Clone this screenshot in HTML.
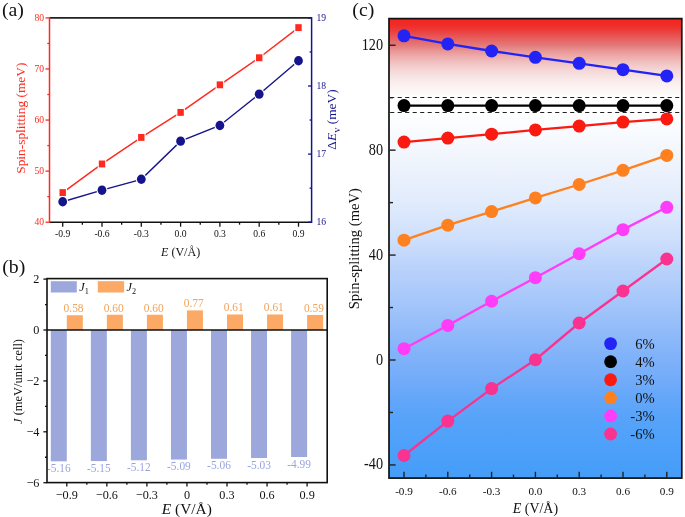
<!DOCTYPE html>
<html><head><meta charset="utf-8"><style>
html,body{margin:0;padding:0;background:#fff;width:685px;height:517px;overflow:hidden}
svg{display:block;will-change:transform}
text{font-family:"Liberation Serif", serif;}
</style></head><body>
<svg width="685" height="517" viewBox="0 0 685 517">
<rect width="685" height="517" fill="#fff"/>
<line x1="49.50" y1="17.90" x2="311.60" y2="17.90" stroke="#222" stroke-width="1.6" />
<line x1="49.50" y1="222.20" x2="311.60" y2="222.20" stroke="#111" stroke-width="1.6" />
<line x1="49.50" y1="17.10" x2="49.50" y2="223.00" stroke="#ff2a1f" stroke-width="1.5" />
<line x1="311.60" y1="17.10" x2="311.60" y2="223.00" stroke="#16148c" stroke-width="1.5" />
<line x1="45.50" y1="222.20" x2="49.50" y2="222.20" stroke="#ff2a1f" stroke-width="1.3" />
<line x1="47.30" y1="196.66" x2="49.50" y2="196.66" stroke="#ff2a1f" stroke-width="1.3" />
<line x1="45.50" y1="171.13" x2="49.50" y2="171.13" stroke="#ff2a1f" stroke-width="1.3" />
<line x1="47.30" y1="145.59" x2="49.50" y2="145.59" stroke="#ff2a1f" stroke-width="1.3" />
<line x1="45.50" y1="120.06" x2="49.50" y2="120.06" stroke="#ff2a1f" stroke-width="1.3" />
<line x1="47.30" y1="94.52" x2="49.50" y2="94.52" stroke="#ff2a1f" stroke-width="1.3" />
<line x1="45.50" y1="68.99" x2="49.50" y2="68.99" stroke="#ff2a1f" stroke-width="1.3" />
<line x1="47.30" y1="43.45" x2="49.50" y2="43.45" stroke="#ff2a1f" stroke-width="1.3" />
<line x1="45.50" y1="17.92" x2="49.50" y2="17.92" stroke="#ff2a1f" stroke-width="1.3" />
<text transform="translate(44.00,225.20) scale(0.86,1)" font-size="11.2" fill="#ff2a1f" text-anchor="end" >40</text>
<text transform="translate(44.00,174.13) scale(0.86,1)" font-size="11.2" fill="#ff2a1f" text-anchor="end" >50</text>
<text transform="translate(44.00,123.06) scale(0.86,1)" font-size="11.2" fill="#ff2a1f" text-anchor="end" >60</text>
<text transform="translate(44.00,71.99) scale(0.86,1)" font-size="11.2" fill="#ff2a1f" text-anchor="end" >70</text>
<text transform="translate(44.00,20.92) scale(0.86,1)" font-size="11.2" fill="#ff2a1f" text-anchor="end" >80</text>
<line x1="308.00" y1="222.20" x2="311.60" y2="222.20" stroke="#16148c" stroke-width="1.3" />
<line x1="309.60" y1="188.15" x2="311.60" y2="188.15" stroke="#16148c" stroke-width="1.3" />
<line x1="308.00" y1="154.10" x2="311.60" y2="154.10" stroke="#16148c" stroke-width="1.3" />
<line x1="309.60" y1="120.05" x2="311.60" y2="120.05" stroke="#16148c" stroke-width="1.3" />
<line x1="308.00" y1="86.00" x2="311.60" y2="86.00" stroke="#16148c" stroke-width="1.3" />
<line x1="309.60" y1="51.95" x2="311.60" y2="51.95" stroke="#16148c" stroke-width="1.3" />
<line x1="308.00" y1="17.90" x2="311.60" y2="17.90" stroke="#16148c" stroke-width="1.3" />
<text transform="translate(316.40,225.30) scale(0.86,1)" font-size="11.2" fill="#16148c" text-anchor="start" >16</text>
<text transform="translate(316.40,157.20) scale(0.86,1)" font-size="11.2" fill="#16148c" text-anchor="start" >17</text>
<text transform="translate(316.40,89.10) scale(0.86,1)" font-size="11.2" fill="#16148c" text-anchor="start" >18</text>
<text transform="translate(316.40,21.00) scale(0.86,1)" font-size="11.2" fill="#16148c" text-anchor="start" >19</text>
<line x1="62.70" y1="222.20" x2="62.70" y2="226.70" stroke="#111" stroke-width="1.3" />
<line x1="82.35" y1="222.20" x2="82.35" y2="224.70" stroke="#111" stroke-width="1.3" />
<line x1="102.00" y1="222.20" x2="102.00" y2="226.70" stroke="#111" stroke-width="1.3" />
<line x1="121.65" y1="222.20" x2="121.65" y2="224.70" stroke="#111" stroke-width="1.3" />
<line x1="141.30" y1="222.20" x2="141.30" y2="226.70" stroke="#111" stroke-width="1.3" />
<line x1="160.95" y1="222.20" x2="160.95" y2="224.70" stroke="#111" stroke-width="1.3" />
<line x1="180.60" y1="222.20" x2="180.60" y2="226.70" stroke="#111" stroke-width="1.3" />
<line x1="200.25" y1="222.20" x2="200.25" y2="224.70" stroke="#111" stroke-width="1.3" />
<line x1="219.90" y1="222.20" x2="219.90" y2="226.70" stroke="#111" stroke-width="1.3" />
<line x1="239.55" y1="222.20" x2="239.55" y2="224.70" stroke="#111" stroke-width="1.3" />
<line x1="259.20" y1="222.20" x2="259.20" y2="226.70" stroke="#111" stroke-width="1.3" />
<line x1="278.85" y1="222.20" x2="278.85" y2="224.70" stroke="#111" stroke-width="1.3" />
<line x1="298.50" y1="222.20" x2="298.50" y2="226.70" stroke="#111" stroke-width="1.3" />
<text transform="translate(62.70,236.90) scale(0.86,1)" font-size="11.2" fill="#111" text-anchor="middle" >-0.9</text>
<text transform="translate(102.00,236.90) scale(0.86,1)" font-size="11.2" fill="#111" text-anchor="middle" >-0.6</text>
<text transform="translate(141.30,236.90) scale(0.86,1)" font-size="11.2" fill="#111" text-anchor="middle" >-0.3</text>
<text transform="translate(180.60,236.90) scale(0.86,1)" font-size="11.2" fill="#111" text-anchor="middle" >0.0</text>
<text transform="translate(219.90,236.90) scale(0.86,1)" font-size="11.2" fill="#111" text-anchor="middle" >0.3</text>
<text transform="translate(259.20,236.90) scale(0.86,1)" font-size="11.2" fill="#111" text-anchor="middle" >0.6</text>
<text transform="translate(298.50,236.90) scale(0.86,1)" font-size="11.2" fill="#111" text-anchor="middle" >0.9</text>
<text transform="translate(25.40,118.20) rotate(-90)" font-size="13.4" fill="#ff2a1f" text-anchor="middle" >Spin-splitting (meV)</text>
<text font-size="13.4" fill="#16148c" text-anchor="middle" transform="translate(336,119.5) rotate(-90) scale(1.0,1)">&#916;<tspan font-style="italic">E</tspan><tspan font-size="10.5" dy="4.2">v</tspan><tspan dy="-4.2"> (meV)</tspan></text>
<text transform="translate(180.6,255.6) scale(0.9,1)" font-size="13.4" fill="#111" text-anchor="middle"><tspan font-style="italic">E</tspan> (V/&#197;)</text>
<text transform="translate(2.00,16.05)" font-size="19.8" fill="#111" text-anchor="start" >(a)</text>
<polyline points="62.70,192.58 102.00,163.98 141.30,137.42 180.60,112.40 219.90,84.82 259.20,57.75 298.50,27.62" fill="none" stroke="#ff2a1f" stroke-width="1.5"/>
<polyline points="62.70,201.77 102.00,190.19 141.30,179.30 180.60,141.16 219.90,125.50 259.20,94.17 298.50,60.80" fill="none" stroke="#16148c" stroke-width="1.4"/>
<rect x="59.50" y="189.13" width="6.4" height="6.9" fill="#ff2a1f" stroke="#fff" stroke-width="2.2" paint-order="stroke"/>
<rect x="98.80" y="160.53" width="6.4" height="6.9" fill="#ff2a1f" stroke="#fff" stroke-width="2.2" paint-order="stroke"/>
<rect x="138.10" y="133.97" width="6.4" height="6.9" fill="#ff2a1f" stroke="#fff" stroke-width="2.2" paint-order="stroke"/>
<rect x="177.40" y="108.95" width="6.4" height="6.9" fill="#ff2a1f" stroke="#fff" stroke-width="2.2" paint-order="stroke"/>
<rect x="216.70" y="81.37" width="6.4" height="6.9" fill="#ff2a1f" stroke="#fff" stroke-width="2.2" paint-order="stroke"/>
<rect x="256.00" y="54.30" width="6.4" height="6.9" fill="#ff2a1f" stroke="#fff" stroke-width="2.2" paint-order="stroke"/>
<rect x="295.30" y="24.17" width="6.4" height="6.9" fill="#ff2a1f" stroke="#fff" stroke-width="2.2" paint-order="stroke"/>
<ellipse cx="62.70" cy="201.77" rx="4.4" ry="4.7" fill="#16148c" stroke="#fff" stroke-width="2.2" paint-order="stroke"/>
<ellipse cx="102.00" cy="190.19" rx="4.4" ry="4.7" fill="#16148c" stroke="#fff" stroke-width="2.2" paint-order="stroke"/>
<ellipse cx="141.30" cy="179.30" rx="4.4" ry="4.7" fill="#16148c" stroke="#fff" stroke-width="2.2" paint-order="stroke"/>
<ellipse cx="180.60" cy="141.16" rx="4.4" ry="4.7" fill="#16148c" stroke="#fff" stroke-width="2.2" paint-order="stroke"/>
<ellipse cx="219.90" cy="125.50" rx="4.4" ry="4.7" fill="#16148c" stroke="#fff" stroke-width="2.2" paint-order="stroke"/>
<ellipse cx="259.20" cy="94.17" rx="4.4" ry="4.7" fill="#16148c" stroke="#fff" stroke-width="2.2" paint-order="stroke"/>
<ellipse cx="298.50" cy="60.80" rx="4.4" ry="4.7" fill="#16148c" stroke="#fff" stroke-width="2.2" paint-order="stroke"/>
<rect x="50.80" y="330.00" width="16" height="131.32" fill="#9ca8dc"/>
<rect x="66.80" y="315.24" width="16" height="14.76" fill="#fba964"/>
<text transform="translate(73.60,312.04) scale(0.92,1)" font-size="12.4" fill="#f2a35c" text-anchor="middle" >0.58</text>
<text transform="translate(58.80,471.92) scale(0.92,1)" font-size="12.4" fill="#9aa4dc" text-anchor="middle" >-5.16</text>
<rect x="90.85" y="330.00" width="16" height="131.07" fill="#9ca8dc"/>
<rect x="106.85" y="314.73" width="16" height="15.27" fill="#fba964"/>
<text transform="translate(113.65,311.53) scale(0.92,1)" font-size="12.4" fill="#f2a35c" text-anchor="middle" >0.60</text>
<text transform="translate(98.85,471.67) scale(0.92,1)" font-size="12.4" fill="#9aa4dc" text-anchor="middle" >-5.15</text>
<rect x="130.90" y="330.00" width="16" height="130.30" fill="#9ca8dc"/>
<rect x="146.90" y="314.73" width="16" height="15.27" fill="#fba964"/>
<text transform="translate(153.70,311.53) scale(0.92,1)" font-size="12.4" fill="#f2a35c" text-anchor="middle" >0.60</text>
<text transform="translate(138.90,470.90) scale(0.92,1)" font-size="12.4" fill="#9aa4dc" text-anchor="middle" >-5.12</text>
<rect x="170.95" y="330.00" width="16" height="129.54" fill="#9ca8dc"/>
<rect x="186.95" y="310.40" width="16" height="19.60" fill="#fba964"/>
<text transform="translate(193.75,307.20) scale(0.92,1)" font-size="12.4" fill="#f2a35c" text-anchor="middle" >0.77</text>
<text transform="translate(178.95,470.14) scale(0.92,1)" font-size="12.4" fill="#9aa4dc" text-anchor="middle" >-5.09</text>
<rect x="211.00" y="330.00" width="16" height="128.78" fill="#9ca8dc"/>
<rect x="227.00" y="314.48" width="16" height="15.52" fill="#fba964"/>
<text transform="translate(233.80,311.28) scale(0.92,1)" font-size="12.4" fill="#f2a35c" text-anchor="middle" >0.61</text>
<text transform="translate(219.00,469.38) scale(0.92,1)" font-size="12.4" fill="#9aa4dc" text-anchor="middle" >-5.06</text>
<rect x="251.05" y="330.00" width="16" height="128.01" fill="#9ca8dc"/>
<rect x="267.05" y="314.48" width="16" height="15.52" fill="#fba964"/>
<text transform="translate(273.85,311.28) scale(0.92,1)" font-size="12.4" fill="#f2a35c" text-anchor="middle" >0.61</text>
<text transform="translate(259.05,468.61) scale(0.92,1)" font-size="12.4" fill="#9aa4dc" text-anchor="middle" >-5.03</text>
<rect x="291.10" y="330.00" width="16" height="127.00" fill="#9ca8dc"/>
<rect x="307.10" y="314.98" width="16" height="15.02" fill="#fba964"/>
<text transform="translate(313.90,311.78) scale(0.92,1)" font-size="12.4" fill="#f2a35c" text-anchor="middle" >0.59</text>
<text transform="translate(299.10,467.60) scale(0.92,1)" font-size="12.4" fill="#9aa4dc" text-anchor="middle" >-4.99</text>
<line x1="47.00" y1="330.00" x2="327.20" y2="330.00" stroke="#111" stroke-width="1.5" />
<rect x="47.0" y="278.6" width="280.20" height="204.00" fill="none" stroke="#111" stroke-width="1.6"/>
<line x1="43.40" y1="279.10" x2="47.00" y2="279.10" stroke="#111" stroke-width="1.3" />
<line x1="45.00" y1="304.55" x2="47.00" y2="304.55" stroke="#111" stroke-width="1.3" />
<line x1="43.40" y1="330.00" x2="47.00" y2="330.00" stroke="#111" stroke-width="1.3" />
<line x1="45.00" y1="355.45" x2="47.00" y2="355.45" stroke="#111" stroke-width="1.3" />
<line x1="43.40" y1="380.90" x2="47.00" y2="380.90" stroke="#111" stroke-width="1.3" />
<line x1="45.00" y1="406.35" x2="47.00" y2="406.35" stroke="#111" stroke-width="1.3" />
<line x1="43.40" y1="431.80" x2="47.00" y2="431.80" stroke="#111" stroke-width="1.3" />
<line x1="45.00" y1="457.25" x2="47.00" y2="457.25" stroke="#111" stroke-width="1.3" />
<line x1="43.40" y1="482.70" x2="47.00" y2="482.70" stroke="#111" stroke-width="1.3" />
<text transform="translate(39.40,283.30) scale(0.94,1)" font-size="13" fill="#111" text-anchor="end" >2</text>
<text transform="translate(39.40,334.20) scale(0.94,1)" font-size="13" fill="#111" text-anchor="end" >0</text>
<text transform="translate(39.40,385.10) scale(0.94,1)" font-size="13" fill="#111" text-anchor="end" >&#8722;2</text>
<text transform="translate(39.40,436.00) scale(0.94,1)" font-size="13" fill="#111" text-anchor="end" >&#8722;4</text>
<text transform="translate(39.40,486.90) scale(0.94,1)" font-size="13" fill="#111" text-anchor="end" >&#8722;6</text>
<line x1="66.80" y1="482.60" x2="66.80" y2="486.40" stroke="#111" stroke-width="1.3" />
<line x1="86.82" y1="482.60" x2="86.82" y2="484.80" stroke="#111" stroke-width="1.3" />
<line x1="106.85" y1="482.60" x2="106.85" y2="486.40" stroke="#111" stroke-width="1.3" />
<line x1="126.87" y1="482.60" x2="126.87" y2="484.80" stroke="#111" stroke-width="1.3" />
<line x1="146.90" y1="482.60" x2="146.90" y2="486.40" stroke="#111" stroke-width="1.3" />
<line x1="166.92" y1="482.60" x2="166.92" y2="484.80" stroke="#111" stroke-width="1.3" />
<line x1="186.95" y1="482.60" x2="186.95" y2="486.40" stroke="#111" stroke-width="1.3" />
<line x1="206.97" y1="482.60" x2="206.97" y2="484.80" stroke="#111" stroke-width="1.3" />
<line x1="227.00" y1="482.60" x2="227.00" y2="486.40" stroke="#111" stroke-width="1.3" />
<line x1="247.02" y1="482.60" x2="247.02" y2="484.80" stroke="#111" stroke-width="1.3" />
<line x1="267.05" y1="482.60" x2="267.05" y2="486.40" stroke="#111" stroke-width="1.3" />
<line x1="287.07" y1="482.60" x2="287.07" y2="484.80" stroke="#111" stroke-width="1.3" />
<line x1="307.10" y1="482.60" x2="307.10" y2="486.40" stroke="#111" stroke-width="1.3" />
<text transform="translate(66.80,498.80) scale(0.94,1)" font-size="13" fill="#111" text-anchor="middle" >&#8722;0.9</text>
<text transform="translate(106.85,498.80) scale(0.94,1)" font-size="13" fill="#111" text-anchor="middle" >&#8722;0.6</text>
<text transform="translate(146.90,498.80) scale(0.94,1)" font-size="13" fill="#111" text-anchor="middle" >&#8722;0.3</text>
<text transform="translate(186.95,498.80) scale(0.94,1)" font-size="13" fill="#111" text-anchor="middle" >0</text>
<text transform="translate(227.00,498.80) scale(0.94,1)" font-size="13" fill="#111" text-anchor="middle" >0.3</text>
<text transform="translate(267.05,498.80) scale(0.94,1)" font-size="13" fill="#111" text-anchor="middle" >0.6</text>
<text transform="translate(307.10,498.80) scale(0.94,1)" font-size="13" fill="#111" text-anchor="middle" >0.9</text>
<rect x="50.8" y="281.2" width="26" height="11.3" fill="#9ca8dc"/>
<rect x="97.8" y="281.2" width="26.3" height="11.3" fill="#fba964"/>
<text transform="translate(79.2,291) scale(0.92,1)" font-size="13.4" fill="#111"><tspan font-style="italic">J</tspan><tspan font-size="9" dy="2.5">1</tspan></text>
<text transform="translate(126.4,291) scale(0.92,1)" font-size="13.4" fill="#111"><tspan font-style="italic">J</tspan><tspan font-size="9" dy="2.5">2</tspan></text>
<text font-size="13.4" fill="#111" text-anchor="middle" transform="translate(21.6,381.5) rotate(-90) scale(0.93,1)"><tspan font-style="italic">J</tspan> (meV/unit cell)</text>
<text transform="translate(186.8,514.0) scale(1.0,1)" font-size="15.4" fill="#111" text-anchor="middle"><tspan font-style="italic">E</tspan> (V/&#197;)</text>
<text transform="translate(2.20,273.25)" font-size="19.8" fill="#111" text-anchor="start" >(b)</text>
<defs><linearGradient id="bg" x1="0" y1="0" x2="0" y2="1"><stop offset="0.0000" stop-color="#f5261c"/><stop offset="0.0139" stop-color="#f02c28"/><stop offset="0.0248" stop-color="#ec3a38"/><stop offset="0.0357" stop-color="#e85050"/><stop offset="0.0466" stop-color="#e66464"/><stop offset="0.0575" stop-color="#e47878"/><stop offset="0.0683" stop-color="#e89090"/><stop offset="0.0792" stop-color="#eca6a6"/><stop offset="0.0901" stop-color="#f0b8b8"/><stop offset="0.1010" stop-color="#f3c8c8"/><stop offset="0.1119" stop-color="#f5d6d6"/><stop offset="0.1227" stop-color="#f7e0e0"/><stop offset="0.1336" stop-color="#f9eaea"/><stop offset="0.1445" stop-color="#fbf0f0"/><stop offset="0.1554" stop-color="#fdf6f6"/><stop offset="0.1684" stop-color="#fefcfc"/><stop offset="0.1713" stop-color="#ffffff"/><stop offset="0.2041" stop-color="#ffffff"/><stop offset="0.2316" stop-color="#fafcff"/><stop offset="0.2860" stop-color="#f3f7fd"/><stop offset="0.3404" stop-color="#ebf1fc"/><stop offset="0.3948" stop-color="#e2ecfc"/><stop offset="0.4818" stop-color="#cddffc"/><stop offset="0.5254" stop-color="#bfd5fb"/><stop offset="0.6233" stop-color="#a3c5fa"/><stop offset="0.7212" stop-color="#84b4f9"/><stop offset="0.7756" stop-color="#76adf9"/><stop offset="0.8300" stop-color="#62a6f9"/><stop offset="0.8736" stop-color="#56a3f9"/><stop offset="0.9388" stop-color="#4ca0f9"/><stop offset="1.0000" stop-color="#449df8"/></linearGradient></defs>
<rect x="389.0" y="18.6" width="292.80" height="459.50" fill="url(#bg)"/>
<line x1="389.00" y1="97.50" x2="681.80" y2="97.50" stroke="#222" stroke-width="1.2" stroke-dasharray="4.1 3.4" stroke-dashoffset="-1.15"/>
<line x1="389.00" y1="112.50" x2="681.80" y2="112.50" stroke="#222" stroke-width="1.2" stroke-dasharray="4.1 3.4" stroke-dashoffset="-1.15"/>
<polyline points="404.00,35.80 447.80,43.93 491.60,51.01 535.40,57.31 579.20,63.34 623.00,69.63 666.80,75.93" fill="none" stroke="#2323f5" stroke-width="2.3"/>
<circle cx="404.00" cy="35.80" r="6.5" fill="#2323f5"/>
<circle cx="447.80" cy="43.93" r="6.5" fill="#2323f5"/>
<circle cx="491.60" cy="51.01" r="6.5" fill="#2323f5"/>
<circle cx="535.40" cy="57.31" r="6.5" fill="#2323f5"/>
<circle cx="579.20" cy="63.34" r="6.5" fill="#2323f5"/>
<circle cx="623.00" cy="69.63" r="6.5" fill="#2323f5"/>
<circle cx="666.80" cy="75.93" r="6.5" fill="#2323f5"/>
<polyline points="404.00,105.57 447.80,105.57 491.60,105.57 535.40,105.57 579.20,105.57 623.00,105.57 666.80,105.57" fill="none" stroke="#000000" stroke-width="2.3"/>
<circle cx="404.00" cy="105.57" r="6.5" fill="#000000"/>
<circle cx="447.80" cy="105.57" r="6.5" fill="#000000"/>
<circle cx="491.60" cy="105.57" r="6.5" fill="#000000"/>
<circle cx="535.40" cy="105.57" r="6.5" fill="#000000"/>
<circle cx="579.20" cy="105.57" r="6.5" fill="#000000"/>
<circle cx="623.00" cy="105.57" r="6.5" fill="#000000"/>
<circle cx="666.80" cy="105.57" r="6.5" fill="#000000"/>
<polyline points="404.00,142.03 447.80,138.09 491.60,134.16 535.40,129.96 579.20,126.03 623.00,122.09 666.80,118.95" fill="none" stroke="#fa1a10" stroke-width="2.3"/>
<circle cx="404.00" cy="142.03" r="6.5" fill="#fa1a10"/>
<circle cx="447.80" cy="138.09" r="6.5" fill="#fa1a10"/>
<circle cx="491.60" cy="134.16" r="6.5" fill="#fa1a10"/>
<circle cx="535.40" cy="129.96" r="6.5" fill="#fa1a10"/>
<circle cx="579.20" cy="126.03" r="6.5" fill="#fa1a10"/>
<circle cx="623.00" cy="122.09" r="6.5" fill="#fa1a10"/>
<circle cx="666.80" cy="118.95" r="6.5" fill="#fa1a10"/>
<polyline points="404.00,240.13 447.80,225.18 491.60,211.54 535.40,197.90 579.20,184.52 623.00,170.36 666.80,155.41" fill="none" stroke="#ff801e" stroke-width="2.3"/>
<circle cx="404.00" cy="240.13" r="6.5" fill="#ff801e"/>
<circle cx="447.80" cy="225.18" r="6.5" fill="#ff801e"/>
<circle cx="491.60" cy="211.54" r="6.5" fill="#ff801e"/>
<circle cx="535.40" cy="197.90" r="6.5" fill="#ff801e"/>
<circle cx="579.20" cy="184.52" r="6.5" fill="#ff801e"/>
<circle cx="623.00" cy="170.36" r="6.5" fill="#ff801e"/>
<circle cx="666.80" cy="155.41" r="6.5" fill="#ff801e"/>
<polyline points="404.00,348.72 447.80,325.38 491.60,301.24 535.40,277.64 579.20,253.77 623.00,229.64 666.80,207.34" fill="none" stroke="#ff3cf8" stroke-width="2.3"/>
<circle cx="404.00" cy="348.72" r="6.5" fill="#ff3cf8"/>
<circle cx="447.80" cy="325.38" r="6.5" fill="#ff3cf8"/>
<circle cx="491.60" cy="301.24" r="6.5" fill="#ff3cf8"/>
<circle cx="535.40" cy="277.64" r="6.5" fill="#ff3cf8"/>
<circle cx="579.20" cy="253.77" r="6.5" fill="#ff3cf8"/>
<circle cx="623.00" cy="229.64" r="6.5" fill="#ff3cf8"/>
<circle cx="666.80" cy="207.34" r="6.5" fill="#ff3cf8"/>
<polyline points="404.00,455.48 447.80,421.12 491.60,388.59 535.40,359.74 579.20,323.02 623.00,291.02 666.80,259.01" fill="none" stroke="#fa3290" stroke-width="2.3"/>
<circle cx="404.00" cy="455.48" r="6.5" fill="#fa3290"/>
<circle cx="447.80" cy="421.12" r="6.5" fill="#fa3290"/>
<circle cx="491.60" cy="388.59" r="6.5" fill="#fa3290"/>
<circle cx="535.40" cy="359.74" r="6.5" fill="#fa3290"/>
<circle cx="579.20" cy="323.02" r="6.5" fill="#fa3290"/>
<circle cx="623.00" cy="291.02" r="6.5" fill="#fa3290"/>
<circle cx="666.80" cy="259.01" r="6.5" fill="#fa3290"/>
<rect x="389.0" y="18.6" width="292.80" height="459.50" fill="none" stroke="#111" stroke-width="1.7"/>
<line x1="389.00" y1="464.92" x2="395.60" y2="464.92" stroke="#222" stroke-width="1.4" />
<line x1="389.00" y1="412.46" x2="393.00" y2="412.46" stroke="#222" stroke-width="1.4" />
<line x1="389.00" y1="360.00" x2="395.60" y2="360.00" stroke="#222" stroke-width="1.4" />
<line x1="389.00" y1="307.54" x2="393.00" y2="307.54" stroke="#222" stroke-width="1.4" />
<line x1="389.00" y1="255.08" x2="395.60" y2="255.08" stroke="#222" stroke-width="1.4" />
<line x1="389.00" y1="202.62" x2="393.00" y2="202.62" stroke="#222" stroke-width="1.4" />
<line x1="389.00" y1="150.16" x2="395.60" y2="150.16" stroke="#222" stroke-width="1.4" />
<line x1="389.00" y1="97.70" x2="393.00" y2="97.70" stroke="#222" stroke-width="1.4" />
<line x1="389.00" y1="45.24" x2="395.60" y2="45.24" stroke="#222" stroke-width="1.4" />
<text transform="translate(383.00,469.42) scale(0.9,1)" font-size="15.8" fill="#111" text-anchor="end" >-40</text>
<text transform="translate(383.00,364.50) scale(0.9,1)" font-size="15.8" fill="#111" text-anchor="end" >0</text>
<text transform="translate(383.00,259.58) scale(0.9,1)" font-size="15.8" fill="#111" text-anchor="end" >40</text>
<text transform="translate(383.00,154.66) scale(0.9,1)" font-size="15.8" fill="#111" text-anchor="end" >80</text>
<text transform="translate(383.00,49.74) scale(0.9,1)" font-size="15.8" fill="#111" text-anchor="end" >120</text>
<line x1="404.00" y1="478.10" x2="404.00" y2="471.80" stroke="#222" stroke-width="1.4" />
<line x1="425.90" y1="478.10" x2="425.90" y2="474.60" stroke="#222" stroke-width="1.4" />
<line x1="447.80" y1="478.10" x2="447.80" y2="471.80" stroke="#222" stroke-width="1.4" />
<line x1="469.70" y1="478.10" x2="469.70" y2="474.60" stroke="#222" stroke-width="1.4" />
<line x1="491.60" y1="478.10" x2="491.60" y2="471.80" stroke="#222" stroke-width="1.4" />
<line x1="513.50" y1="478.10" x2="513.50" y2="474.60" stroke="#222" stroke-width="1.4" />
<line x1="535.40" y1="478.10" x2="535.40" y2="471.80" stroke="#222" stroke-width="1.4" />
<line x1="557.30" y1="478.10" x2="557.30" y2="474.60" stroke="#222" stroke-width="1.4" />
<line x1="579.20" y1="478.10" x2="579.20" y2="471.80" stroke="#222" stroke-width="1.4" />
<line x1="601.10" y1="478.10" x2="601.10" y2="474.60" stroke="#222" stroke-width="1.4" />
<line x1="623.00" y1="478.10" x2="623.00" y2="471.80" stroke="#222" stroke-width="1.4" />
<line x1="644.90" y1="478.10" x2="644.90" y2="474.60" stroke="#222" stroke-width="1.4" />
<line x1="666.80" y1="478.10" x2="666.80" y2="471.80" stroke="#222" stroke-width="1.4" />
<text transform="translate(404.00,494.80)" font-size="11.2" fill="#111" text-anchor="middle" >-0.9</text>
<text transform="translate(447.80,494.80)" font-size="11.2" fill="#111" text-anchor="middle" >-0.6</text>
<text transform="translate(491.60,494.80)" font-size="11.2" fill="#111" text-anchor="middle" >-0.3</text>
<text transform="translate(535.40,494.80)" font-size="11.2" fill="#111" text-anchor="middle" >0.0</text>
<text transform="translate(579.20,494.80)" font-size="11.2" fill="#111" text-anchor="middle" >0.3</text>
<text transform="translate(623.00,494.80)" font-size="11.2" fill="#111" text-anchor="middle" >0.6</text>
<text transform="translate(666.80,494.80)" font-size="11.2" fill="#111" text-anchor="middle" >0.9</text>
<text transform="translate(359.00,248.70) rotate(-90)" font-size="14.6" fill="#111" text-anchor="middle" >Spin-splitting (meV)</text>
<text transform="translate(535.4,513) scale(0.92,1)" font-size="15.2" fill="#111" text-anchor="middle"><tspan font-style="italic">E</tspan> (V/&#197;)</text>
<text transform="translate(352.30,16.10)" font-size="19.8" fill="#111" text-anchor="start" >(c)</text>
<circle cx="610.6" cy="343.60" r="6.4" fill="#2323f5"/>
<text transform="translate(654.70,348.60)" font-size="14.6" fill="#111" text-anchor="end" >6%</text>
<circle cx="610.6" cy="361.68" r="6.4" fill="#000000"/>
<text transform="translate(654.70,366.68)" font-size="14.6" fill="#111" text-anchor="end" >4%</text>
<circle cx="610.6" cy="379.76" r="6.4" fill="#fa1a10"/>
<text transform="translate(654.70,384.76)" font-size="14.6" fill="#111" text-anchor="end" >3%</text>
<circle cx="610.6" cy="397.84" r="6.4" fill="#ff801e"/>
<text transform="translate(654.70,402.84)" font-size="14.6" fill="#111" text-anchor="end" >0%</text>
<circle cx="610.6" cy="415.92" r="6.4" fill="#ff3cf8"/>
<text transform="translate(654.70,420.92)" font-size="14.6" fill="#111" text-anchor="end" >-3%</text>
<circle cx="610.6" cy="434.00" r="6.4" fill="#fa3290"/>
<text transform="translate(654.70,439.00)" font-size="14.6" fill="#111" text-anchor="end" >-6%</text>
</svg>
</body></html>
